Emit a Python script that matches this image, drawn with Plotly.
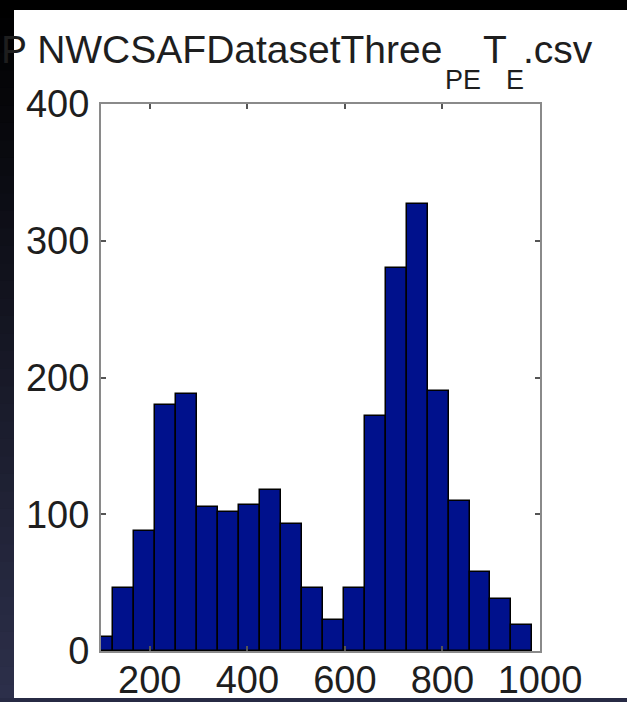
import plotly.graph_objects as go

# Histogram bins (centres, common width) and counts
bin_centers = [103, 146, 189, 232, 275, 318, 361, 404, 447, 490, 533,
               576, 619, 662, 705, 748, 791, 834, 877, 920, 963]
bin_width = 43
counts = [10, 46, 88, 180, 188, 105, 102, 107, 118, 93, 46,
          23, 46, 172, 280, 327, 190, 110, 58, 38, 19]

x_ticks = [200, 400, 600, 800, 1000]
y_ticks = [0, 100, 200, 300, 400]

W, H = 627, 702
ML, MR, MT, MB = 101, 87, 104, 51
PW, PH = W - ML - MR, H - MT - MB

FONT = "Liberation Sans, Arial, Helvetica, sans-serif"
TXT = "#1e1e1e"


def px_x(px):
    return (px - ML) / PW


def px_y(py):
    return (H - MB - py) / PH


fig = go.Figure()
fig.add_trace(go.Bar(
    x=bin_centers,
    y=counts,
    width=bin_width,
    marker=dict(color="#00118C", line=dict(color="#000000", width=1.5)),
    hoverinfo="x+y",
))

axis_common = dict(
    showline=True, linecolor="#8a8a8a", linewidth=2,
    mirror="ticks", ticks="inside", ticklen=5, tickwidth=1.5,
    tickcolor="#555555", showgrid=False, zeroline=False,
    tickfont=dict(family=FONT, size=38, color=TXT),
)

fig.update_layout(
    template="none",
    width=W, height=H,
    margin=dict(l=ML, r=MR, t=MT, b=MB, pad=0),
    paper_bgcolor="white", plot_bgcolor="white",
    showlegend=False, bargap=0,
    xaxis=dict(range=[100, 1000], tickvals=x_ticks,
               ticktext=[str(v) for v in x_ticks],
               ticklabelstandoff=-6, **axis_common),
    yaxis=dict(range=[0, 400], tickvals=y_ticks,
               ticktext=[str(v) for v in y_ticks],
               ticklabelstandoff=2, **axis_common),
)

# Dark screen border: gradient strip on the left, bands on top and bottom
n_slices = 40
top_rgb = (0, 0, 0)
bot_rgb = (44, 47, 74)
for i in range(n_slices):
    f = i / (n_slices - 1)
    r, g, b = (int(round(a + (c - a) * f)) for a, c in zip(top_rgb, bot_rgb))
    y0 = H * i / n_slices
    y1 = H * (i + 1) / n_slices + 1
    fig.add_shape(type="rect", xref="paper", yref="paper",
                  x0=px_x(-1), x1=px_x(14), y0=px_y(y1), y1=px_y(y0),
                  line=dict(width=0), fillcolor=f"rgb({r},{g},{b})",
                  layer="above")
fig.add_shape(type="rect", xref="paper", yref="paper",
              x0=px_x(-1), x1=px_x(W + 1), y0=px_y(10), y1=px_y(-1),
              line=dict(width=0), fillcolor="#000000", layer="above")
fig.add_shape(type="rect", xref="paper", yref="paper",
              x0=px_x(-1), x1=px_x(W + 1), y0=px_y(H + 1), y1=px_y(698),
              line=dict(width=0), fillcolor="#272a44", layer="above")

# Title with lowered subscripts
main_size, sub_size = 39, 27
main_base, sub_base = 63, 89
title_parts = [
    ("P NWCSAFDatasetThree", 0, main_size, main_base),
    ("PE", 444, sub_size, sub_base),
    ("T", 482, main_size, main_base),
    ("E", 505, sub_size, sub_base),
    (".csv", 522, main_size, main_base),
]
for text, left, size, base in title_parts:
    fig.add_annotation(
        text=text, xref="paper", yref="paper",
        x=px_x(left), y=px_y(base - 0.35 * size),
        xanchor="left", yanchor="middle", showarrow=False,
        font=dict(family=FONT, size=size, color=TXT), borderpad=0,
    )

fig.write_html("out.html")
